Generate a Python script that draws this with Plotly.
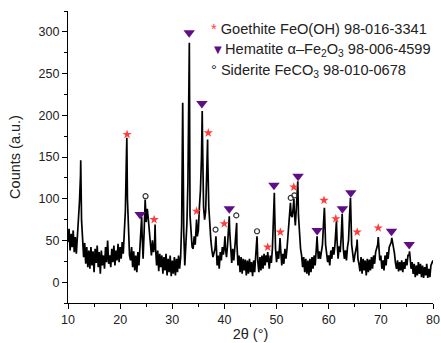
import numpy as np
import plotly.graph_objects as go

# 2-theta sampling grid (deg) and counts, 2 deg per row
theta_start, theta_end, theta_step = 10.0, 80.0, 0.2
counts = [
    48, 64, 38, 58, 42, 62, 36, 54, 34, 56,      # 10
    68, 96, 128, 74, 46, 30, 47, 22, 42, 18,     # 12
    38, 16, 42, 20, 37, 12, 40, 23, 44, 18,      # 14
    36, 10, 38, 20, 32, 16, 42, 24, 50, 22,      # 16
    32, 18, 40, 24, 44, 20, 38, 26, 46, 24,      # 18
    42, 28, 48, 34, 60, 85, 150, 100, 52, 32,    # 20
    26, 42, 18, 37, 14, 32, 12, 36, 20, 45,      # 22
    55, 60, 28, 60, 99, 72, 88, 76, 60, 44,      # 24
    32, 50, 36, 45, 40, 20, 38, 13, 34, 18,      # 26
    32, 10, 30, 14, 34, 8, 28, 12, 32, 7,        # 28
    26, 10, 30, 8, 28, 12, 32, 16, 30, 70,       # 30
    215, 60, 20, 45, 70, 120, 230, 80, 62, 42,   # 32
    40, 55, 45, 68, 55, 62, 90, 110, 150, 170,   # 34
    90, 75, 85, 130, 150, 90, 65, 50, 38, 30,    # 36
    35, 40, 45, 20, 32, 16, 36, 26, 42, 33,      # 38
    45, 40, 30, 45, 60, 62, 35, 23, 40, 26,      # 40
    42, 55, 45, 20, 32, 12, 30, 10, 28, 14,      # 42
    27, 8, 26, 10, 28, 12, 24, 7, 26, 12,        # 44
    32, 45, 25, 12, 30, 14, 32, 16, 34, 20,      # 46
    32, 24, 30, 16, 32, 23, 40, 70, 95, 40,      # 48
    24, 37, 28, 45, 38, 20, 34, 22, 40, 28,      # 50
    40, 58, 72, 88, 80, 78, 90, 85, 68, 90,      # 52
    110, 80, 55, 40, 32, 18, 30, 12, 28, 10,     # 54
    26, 8, 28, 12, 30, 16, 32, 20, 38, 50,       # 56
    28, 37, 28, 38, 45, 70, 85, 45, 35, 24,      # 58
    32, 20, 38, 28, 42, 33, 45, 60, 50, 28,      # 60
    43, 36, 55, 78, 40, 28, 38, 26, 42, 50,      # 62
    80, 95, 45, 32, 24, 32, 38, 45, 28, 22,      # 64
    13, 30, 10, 28, 14, 26, 8, 28, 12, 27,       # 66
    14, 30, 16, 32, 22, 36, 40, 45, 42, 26,      # 68
    32, 16, 26, 14, 32, 20, 36, 28, 42, 45,      # 70
    48, 50, 40, 35, 23, 16, 26, 13, 24, 14,      # 72
    26, 12, 24, 16, 28, 20, 32, 32, 30, 16,      # 74
    24, 10, 22, 6, 20, 8, 24, 10, 22, 6,         # 76
    20, 5, 18, 8, 22, 5, 16, 6, 20, 24,          # 78
    26,                                          # 80
]

# peak apex points (between grid steps)
apex_theta = [12.44, 21.28, 24.13, 26.7, 33.12, 33.27, 34.66, 35.74, 36.77,
              38.37, 40.1, 40.93, 42.35, 46.25, 48.3, 49.57, 50.66, 52.66,
              53.32, 54.07, 57.77, 59.17, 61.48, 62.58, 64.17, 65.45, 69.5,
              72.1, 75.5]
apex_counts = [146, 173, 78, 69, 256, 287, 75, 205, 171,
               55, 55, 79, 71, 55, 36, 107, 53, 95,
               100, 121, 55, 89, 73, 82, 101, 51, 54,
               53, 37]

# phase markers
goethite_theta = [21.33, 26.52, 34.66, 36.9, 39.97, 48.3, 50.72, 53.3, 59.1, 61.36, 65.46, 69.5]
goethite_counts = [177, 75, 85, 179, 70, 42, 60, 114, 98, 76, 60, 65]
hematite_theta = [23.83, 33.24, 35.68, 40.93, 49.5, 54.12, 57.78, 62.63, 64.24, 72.04, 75.44]
hematite_counts = [81, 299, 214, 88, 116, 127, 62, 88, 107, 61, 45]
siderite_theta = [24.87, 38.3, 42.27, 46.25, 52.72, 53.41]
siderite_counts = [103, 63, 80, 61, 101, 104]

legend_labels = [
    "Goethite FeO(OH) 98-016-3341",
    "Hematite α–Fe<sub>2</sub>O<sub>3</sub> 98-006-4599",
    "Siderite FeCO<sub>3</sub> 98-010-0678",
]

x_ticks = [10, 20, 30, 40, 50, 60, 70, 80]
y_ticks = [0, 50, 100, 150, 200, 250, 300]

grid = np.round(np.linspace(theta_start, theta_end, len(counts)), 2)
all_x = np.concatenate([grid, np.array(apex_theta)])
all_y = np.concatenate([np.array(counts, float), np.array(apex_counts, float)])
order = np.argsort(all_x, kind="stable")

FONT = "Liberation Sans, Arial, sans-serif"
RED = "#ff3b3b"
PURPLE = "#5f0f86"
TXT = "#222222"

fig = go.Figure()
fig.add_trace(go.Scatter(x=all_x[order], y=all_y[order], mode="lines",
                         line=dict(color="black", width=1.7), showlegend=False,
                         hoverinfo="skip"))
fig.add_trace(go.Scatter(x=goethite_theta, y=goethite_counts, mode="markers",
                         marker=dict(symbol="star", size=7, color=RED, line=dict(width=0)),
                         showlegend=False))
fig.add_trace(go.Scatter(x=hematite_theta, y=hematite_counts, mode="markers",
                         marker=dict(symbol="triangle-down", size=10, color=PURPLE, line=dict(width=0)),
                         showlegend=False))
fig.add_trace(go.Scatter(x=siderite_theta, y=siderite_counts, mode="markers",
                         marker=dict(symbol="circle-open", size=5, color="#333333", line=dict(width=1.2)),
                         showlegend=False))

axis_common = dict(showline=True, linecolor="black", linewidth=1.3, ticks="outside",
                   ticklen=5, tickwidth=1.2, tickcolor="black", showgrid=False,
                   zeroline=False, mirror=False, automargin=False,
                   tickfont=dict(family=FONT, size=12.5, color=TXT))

fig.update_layout(
    width=441, height=343,
    margin=dict(l=68, r=8, t=11, b=40),
    plot_bgcolor="white", paper_bgcolor="white",
    showlegend=False,
    xaxis=dict(range=[10, 80], tickvals=x_ticks,
               minor=dict(dtick=5, tick0=10, ticks="outside", ticklen=3, tickcolor="black"),
               title=dict(text="2θ (°)", font=dict(family=FONT, size=14.5, color=TXT), standoff=2),
               **axis_common),
    yaxis=dict(range=[-25, 325], tickvals=y_ticks,
               minor=dict(dtick=25, tick0=0, ticks="outside", ticklen=3, tickcolor="black"),
               title=dict(text="Counts (a.u.)", font=dict(family=FONT, size=14.5, color=TXT), standoff=14),
               **axis_common),
)

# legend drawn as text; positions relative to the plot area (px)
def py(pix):
    return (303 - pix) / 292.0

def px(pix):
    return (pix - 68) / 365.0

LEG = 14.6
ann = []
ann.append(dict(x=px(209), y=py(29), xref="paper", yref="paper", xanchor="left", yanchor="middle",
                showarrow=False,
                text=f"<span style='color:{RED}'>*</span> " + legend_labels[0],
                font=dict(family=FONT, size=LEG, color=TXT)))
ann.append(dict(x=px(217.5), y=py(49.5), xref="paper", yref="paper", xanchor="center", yanchor="middle",
                showarrow=False, text="▼", font=dict(family="DejaVu Sans", size=10, color=PURPLE)))
ann.append(dict(x=px(223), y=py(50), xref="paper", yref="paper", xanchor="left", yanchor="middle",
                showarrow=False, text=legend_labels[1],
                font=dict(family=FONT, size=LEG, color=TXT)))
ann.append(dict(x=px(209), y=py(71), xref="paper", yref="paper", xanchor="left", yanchor="middle",
                showarrow=False, text="° " + legend_labels[2],
                font=dict(family=FONT, size=LEG, color=TXT)))
fig.update_layout(annotations=ann)

fig.write_html("out.html", config={"displayModeBar": False},
               post_script="document.body.style.margin='0';document.body.style.overflow='hidden';")
